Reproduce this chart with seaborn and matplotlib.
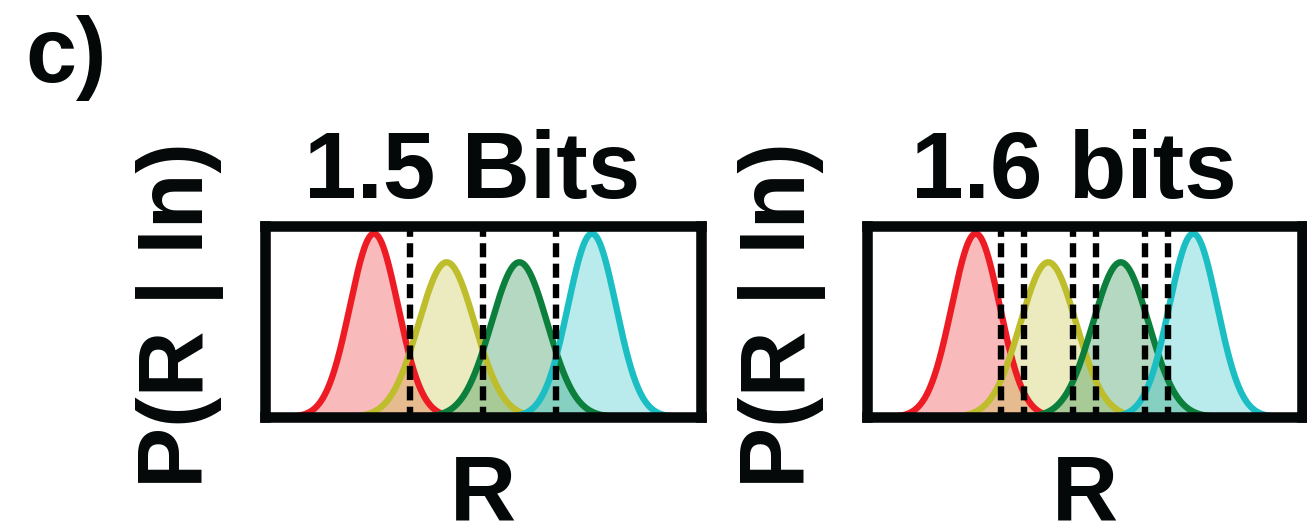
import numpy as np
import pandas as pd
import matplotlib
matplotlib.use("Agg")
import matplotlib.pyplot as plt
import seaborn as sns

# ---- data ----
panel_label = "c)"
titles = ["1.5 Bits", "1.6 bits"]
ylabel_text = "P(R | In)"
xlabel_text = "R"
inputs = ["In1", "In2", "In3", "In4"]
means = [1.5, 2.5, 3.5, 4.5]          # response means (R units)
sigmas = [0.33, 0.385, 0.385, 0.33]   # response widths
peaks = [0.96, 0.81, 0.81, 0.96]      # peak heights (axis fraction)
line_colors = ["#ED1C24", "#BEBE2C", "#0B7F3B", "#1BBEC2"]
bounds_left = [2.0, 3.0, 4.0]
bounds_right = [1.85, 2.16, 2.84, 3.16, 3.84, 4.15]
x_range = (0.0, 6.0)

sns.set_theme(style="white")
plt.rcParams["font.family"] = ["Liberation Sans", "DejaVu Sans"]
plt.rcParams["font.weight"] = "bold"

grid = np.linspace(x_range[0], x_range[1], 1200)
rows = []
for name, m, s, h in zip(inputs, means, sigmas, peaks):
    for xv in grid:
        rows.append((name, xv, h * np.exp(-0.5 * ((xv - m) / s) ** 2)))
df = pd.DataFrame(rows, columns=["input", "R", "P"])
palette = dict(zip(inputs, line_colors))

W, H = 1307, 527
fig = plt.figure(figsize=(W / 100, H / 100), dpi=100)

axes_px = [(265, 226, 436, 191), (867, 226, 435, 191)]
bounds_all = [bounds_left, bounds_right]
SP = 7.6  # spine width (pt)
INK = "#050808"

for (x0, y0, w, h), title, bnds in zip(axes_px, titles, bounds_all):
    ax = fig.add_axes([x0 / W, 1 - (y0 + h) / H, w / W, h / H])
    for name in inputs:
        sub = df[df["input"] == name]
        ax.fill_between(sub["R"], 0, sub["P"], color=palette[name],
                        alpha=0.3, linewidth=0, zorder=1)
    sns.lineplot(data=df, x="R", y="P", hue="input", palette=palette,
                 linewidth=4.6, legend=False, ax=ax, zorder=2)
    for b in bnds:
        ax.axvline(b, color="black", linewidth=4.6,
                   linestyle=(0.6, (2.2, 1.0)), zorder=3)
    ax.set_xlim(*x_range)
    ax.set_ylim(0, 1)
    ax.set_xticks([])
    ax.set_yticks([])
    ax.set_xlabel("")
    ax.set_ylabel("")
    for sp in ax.spines.values():
        sp.set_visible(True)
        sp.set_linewidth(SP)
        sp.set_color(INK)
        sp.set_zorder(5)
    cx = x0 + w / 2
    fig.text((cx - 11) / W, 1 - 198 / H, title, ha="center", va="baseline",
             fontsize=68, fontweight="bold", color=INK)
    fig.text(cx / W, 1 - 519 / H, xlabel_text, ha="center", va="baseline",
             fontsize=66, fontweight="bold", color=INK)
    fig.text((x0 - 85) / W, 1 - 315 / H, ylabel_text, ha="center",
             va="center", rotation=90, fontsize=66, fontweight="bold",
             color=INK)

fig.text(25 / W, 1 - 82 / H, panel_label, ha="left", va="baseline",
         fontsize=66, fontweight="bold", color=INK)

fig.savefig("out.png", dpi=100, facecolor="white")
